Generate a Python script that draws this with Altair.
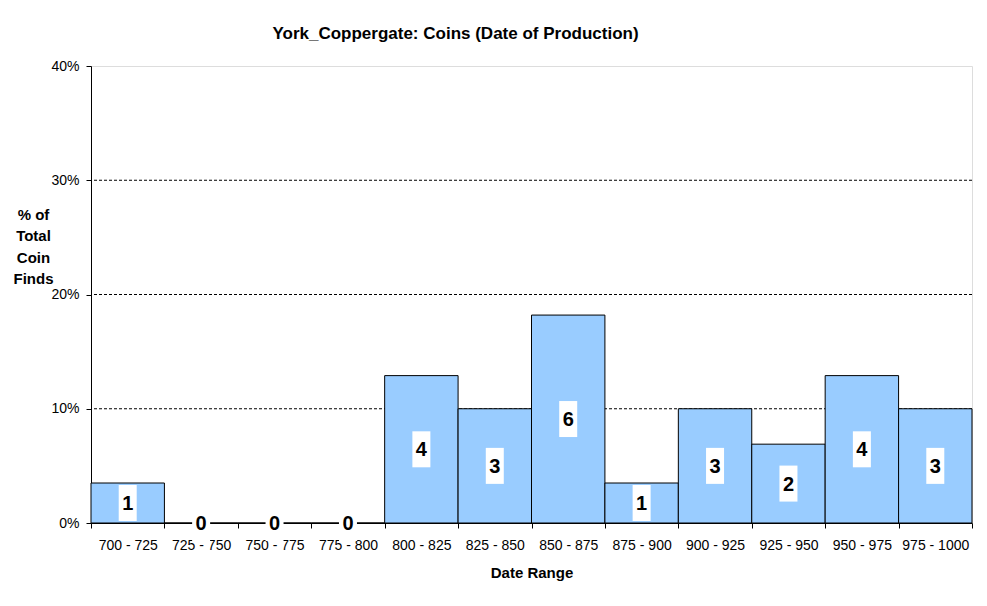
import altair as alt
import pandas as pd

categories = ["700 - 725", "725 - 750", "750 - 775", "775 - 800", "800 - 825", "825 - 850",
              "850 - 875", "875 - 900", "900 - 925", "925 - 950", "950 - 975", "975 - 1000"]
percent = [3.5, 0, 0, 0, 12.9, 10.0, 18.2, 3.5, 10.0, 6.9, 12.9, 10.0]
counts = [1, 0, 0, 0, 4, 3, 6, 1, 3, 2, 4, 3]
grid_values = [10, 20, 30]

df = pd.DataFrame({"range": categories, "pct": percent, "count": counts})
df["mid"] = df["pct"] / 2
grid_df = pd.DataFrame({"g": grid_values})

FONT = "Liberation Sans"

x_enc = alt.X("range:N", sort=categories,
              scale=alt.Scale(paddingInner=0, paddingOuter=0),
              axis=alt.Axis(title="Date Range", labelAngle=0, tickBand="extent",
                            domainColor="black", tickColor="black", tickSize=5,
                            labelFont=FONT, labelFontSize=14, labelColor="black",
                            labelPadding=10,
                            titleFont=FONT, titleFontSize=15, titleFontWeight="bold",
                            titleColor="black", titleY=54, titleBaseline="alphabetic"))

y_scale = alt.Scale(domain=[0, 40], nice=False)

grid = alt.Chart(grid_df).mark_rule(color="black", strokeDash=[3, 2], strokeWidth=1).encode(
    y=alt.Y("g:Q", scale=y_scale)
)

bars = alt.Chart(df).mark_bar(fill="#99CCFF", stroke="black", strokeWidth=1).encode(
    x=x_enc,
    y=alt.Y("pct:Q", scale=y_scale,
            axis=alt.Axis(title=["% of", "Total", "Coin", "Finds"], values=[0, 10, 20, 30, 40],
                          labelExpr="datum.value + '%'", grid=False,
                          domainColor="black", tickColor="black", tickSize=5,
                          labelFont=FONT, labelFontSize=14, labelColor="black", labelPadding=7,
                          titleAngle=0, titleX=-58, titleY=141, titleAlign="center",
                          titleBaseline="top", titleLineHeight=21.5,
                          titleFont=FONT, titleFontSize=15, titleFontWeight="bold",
                          titleColor="black")),
)

boxes = alt.Chart(df).mark_point(
    shape="M-0.5,-1L0.5,-1L0.5,1L-0.5,1Z", size=1296, filled=True, fill="white",
    opacity=1, strokeWidth=0
).encode(
    x=alt.X("range:N", sort=categories),
    y=alt.Y("mid:Q", scale=y_scale),
)

labels = alt.Chart(df).mark_text(font=FONT, fontSize=20, fontWeight="bold", color="black",
                                 baseline="middle", align="center", dy=1).encode(
    x=alt.X("range:N", sort=categories),
    y=alt.Y("mid:Q", scale=y_scale),
    text="count:Q",
)

chart = alt.layer(grid, bars, boxes, labels).properties(
    width=881, height=457,
    autosize=alt.AutoSizeParams(type="none"),
    padding={"left": 83, "top": 58, "right": 5, "bottom": 75},
    title=alt.TitleParams("York_Coppergate: Coins (Date of Production)",
                          font=FONT, fontSize=17, fontWeight="bold", color="black",
                          anchor="middle", dx=-76, offset=16),
).configure_view(stroke="#808080", strokeWidth=1).configure(background="white")

chart.save("out.html", embed_options={"renderer": "svg", "actions": False})
